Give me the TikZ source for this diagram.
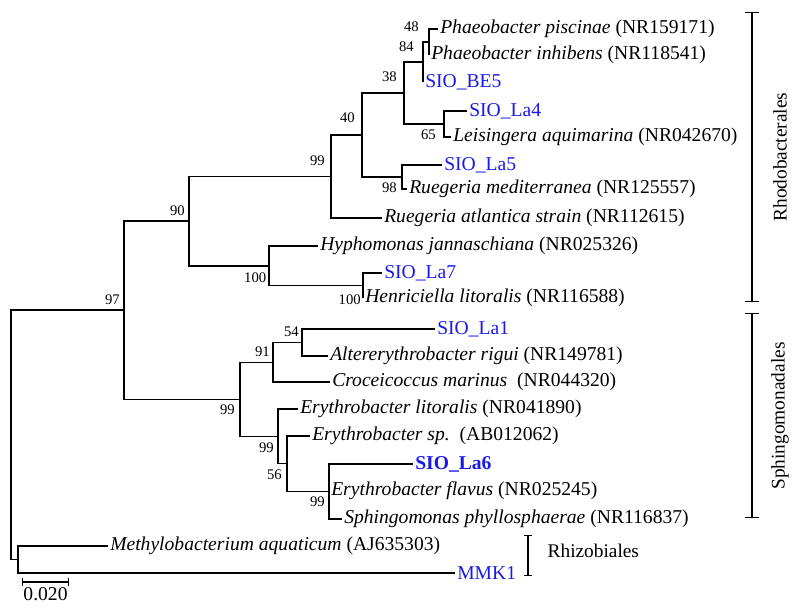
\documentclass[tikz,border=0pt]{standalone}
\usepackage{fontspec}
\setmainfont{Liberation Serif}
\usepackage{tikz}
\usetikzlibrary{arrows.meta}

\definecolor{sioblue}{RGB}{25,25,235}

\begin{document}
\begin{tikzpicture}[
    x=0.75pt, y=-0.75pt,
    % Estilo para las ramas del arbol
    branch/.style={draw=black, line width=0.95pt},
    % Estilo para las hojas (especies)
    leaf/.style={anchor=west, inner sep=1.5pt, font=\fontsize{14.7}{17}\selectfont},
    sio/.style={leaf, text=sioblue},
    % Valores de bootstrap
    boot/.style={anchor=east, inner sep=0pt, font=\fontsize{11}{13}\selectfont},
    % Corchetes de los ordenes
    clade/.style={draw=black, line width=0.95pt},
    orden/.style={font=\fontsize{14.5}{17}\selectfont}
]
    \useasboundingbox (0,0) rectangle (800,609);

    % --- 1. LAS HOJAS ---
    \node[leaf] (tPisc) at (438,29)  {\textit{Phaeobacter piscinae} (NR159171)};
    \node[leaf] (tInhi) at (429,55)  {\textit{Phaeobacter inhibens} (NR118541)};
    \node[sio]  (tBE5)  at (423,82)  {SIO\_BE5};
    \node[sio]  (tLa4)  at (467,111) {SIO\_La4};
    \node[leaf] (tLeis) at (451,137) {\textit{Leisingera aquimarina} (NR042670)};
    \node[sio]  (tLa5)  at (442,165) {SIO\_La5};
    \node[leaf] (tRmed) at (407,189) {\textit{Ruegeria mediterranea} (NR125557)};
    \node[leaf] (tRatl) at (382,218) {\textit{Ruegeria atlantica strain} (NR112615)};
    \node[leaf] (tHyph) at (318,246) {\textit{Hyphomonas jannaschiana} (NR025326)};
    \node[sio]  (tLa7)  at (382,273) {SIO\_La7};
    \node[leaf] (tHenr) at (363,298) {\textit{Henriciella litoralis} (NR116588)};
    \node[sio]  (tLa1)  at (435,329) {SIO\_La1};
    \node[leaf] (tAlt)  at (328,356) {\textit{Altererythrobacter rigui} (NR149781)};
    \node[leaf] (tCroc) at (330,382) {\textit{Croceicoccus marinus}~~(NR044320)};
    \node[leaf] (tElit) at (298,409) {\textit{Erythrobacter litoralis} (NR041890)};
    \node[leaf] (tEsp)  at (310,436) {\textit{Erythrobacter sp.}~~(AB012062)};
    \node[sio, font=\fontsize{14.7}{17}\selectfont\bfseries] (tLa6) at (413,464) {SIO\_La6};
    \node[leaf] (tEfla) at (329,491) {\textit{Erythrobacter flavus} (NR025245)};
    \node[leaf] (tSph)  at (342,519) {\textit{Sphingomonas phyllosphaerae} (NR116837)};
    \node[leaf] (tMeth) at (108,546) {\textit{Methylobacterium aquaticum} (AJ635303)};
    \node[sio]  (tMMK)  at (455,573) {MMK1};

    % --- 2. NODOS INTERNOS ---
    \coordinate (nA) at (429,42);
    \coordinate (nB) at (423,62);
    \coordinate (nD) at (444,124);
    \coordinate (nC) at (404,93);
    \coordinate (nG) at (402,177);
    \coordinate (nE) at (362,135);
    \coordinate (nF) at (331,176.5);
    \coordinate (nJ) at (363,285.5);
    \coordinate (nI) at (269,266);
    \coordinate (nH) at (189,221);
    \coordinate (nN) at (302,342.5);
    \coordinate (nM) at (273,362.3);
    \coordinate (nQ) at (329,491.5);
    \coordinate (nP) at (287,463.8);
    \coordinate (nO) at (278,436.4);
    \coordinate (nL) at (240,399.3);
    \coordinate (nK) at (124,310);
    \coordinate (nR) at (18,559.5);
    \coordinate (root) at (11,435);

    % --- 3. RAMAS ---
    \draw[branch] (root) |- (nK);  \draw[branch] (root) |- (nR);
    \draw[branch] (nK) |- (nH);    \draw[branch] (nK) |- (nL);
    \draw[branch] (nH) |- (nF);    \draw[branch] (nH) |- (nI);
    \draw[branch] (nF) |- (nE);    \draw[branch] (nF) |- (tRatl.west);
    \draw[branch] (nE) |- (nC);    \draw[branch] (nE) |- (nG);
    \draw[branch] (nC) |- (nB);    \draw[branch] (nC) |- (nD);
    \draw[branch] (nB) |- (nA);    \draw[branch] (nB) |- (tBE5.west);
    \draw[branch] (nA) |- (tPisc.west); \draw[branch] (nA) |- (tInhi.west);
    \draw[branch] (nD) |- (tLa4.west);  \draw[branch] (nD) |- (tLeis.west);
    \draw[branch] (nG) |- (tLa5.west);  \draw[branch] (nG) |- (tRmed.west);
    \draw[branch] (nI) |- (tHyph.west); \draw[branch] (nI) |- (nJ);
    \draw[branch] (nJ) |- (tLa7.west);  \draw[branch] (nJ) |- (tHenr.west);
    \draw[branch] (nL) |- (nM);    \draw[branch] (nL) |- (nO);
    \draw[branch] (nM) |- (nN);    \draw[branch] (nM) |- (tCroc.west);
    \draw[branch] (nN) |- (tLa1.west);  \draw[branch] (nN) |- (tAlt.west);
    \draw[branch] (nO) |- (tElit.west); \draw[branch] (nO) |- (nP);
    \draw[branch] (nP) |- (tEsp.west);  \draw[branch] (nP) |- (nQ);
    \foreach \t in {tLa6, tEfla, tSph}
        \draw[branch] (nQ) |- (\t.west);
    \draw[branch] (nR) |- (tMeth.west); \draw[branch] (nR) |- (tMMK.west);

    % --- 4. VALORES DE BOOTSTRAP ---
    \node[boot] (bA) at (419,27)  {48};
    \node[boot] (bB) at (414,47)  {84};
    \node[boot] (bC) at (397,77)  {38};
    \node[boot] (bE) at (355,118) {40};
    \node[boot] (bD) at (436,135) {65};
    \node[boot] (bF) at (325,161) {99};
    \node[boot] (bG) at (397,188) {98};
    \node[boot] (bH) at (185,211) {90};
    \node[boot] (bI) at (266.5,278) {100};
    \node[boot] (bJ) at (361,300) {100};
    \node[boot] (bK) at (120,300) {97};
    \node[boot] (bN) at (299,332) {54};
    \node[boot] (bM) at (270,352) {91};
    \node[boot] (bL) at (235,410) {99};
    \node[boot] (bO) at (274,448) {99};
    \node[boot] (bP) at (282,475) {56};
    \node[boot] (bQ) at (325,502) {99};

    % --- 5. ORDENES Y ESCALA ---
    \coordinate (rhoTop) at (752,12);
    \coordinate (rhoBot) at (752,302);
    \coordinate (sphTop) at (752,313);
    \coordinate (sphBot) at (752,518);
    \coordinate (rhiTop) at (528,535);
    \coordinate (rhiBot) at (528,576);
    \draw[clade, {Bar[width=10pt]}-{Bar[width=10pt]}] (rhoTop) -- (rhoBot);
    \draw[clade, {Bar[width=10pt]}-{Bar[width=10pt]}] (sphTop) -- (sphBot);
    \draw[clade, {Bar[width=6pt]}-{Bar[width=6pt]}] (rhiTop) -- (rhiBot);
    \node[orden, rotate=90] (oRho) at (780,157) {Rhodobacterales};
    \node[orden, rotate=90] (oSph) at (780,416) {Sphingomonadales};
    \node[orden, anchor=west] (oRhi) at (543,551) {Rhizobiales};

    % Barra de escala
    \coordinate (sL) at (22,582);
    \coordinate (sR) at (69,582);
    \draw[clade, {Bar[width=6pt]}-{Bar[width=6pt]}] (sL) -- (sR);
    \node[leaf, anchor=center] (sLab) at (45.5,594) {0.020};

\end{tikzpicture}
\end{document}
